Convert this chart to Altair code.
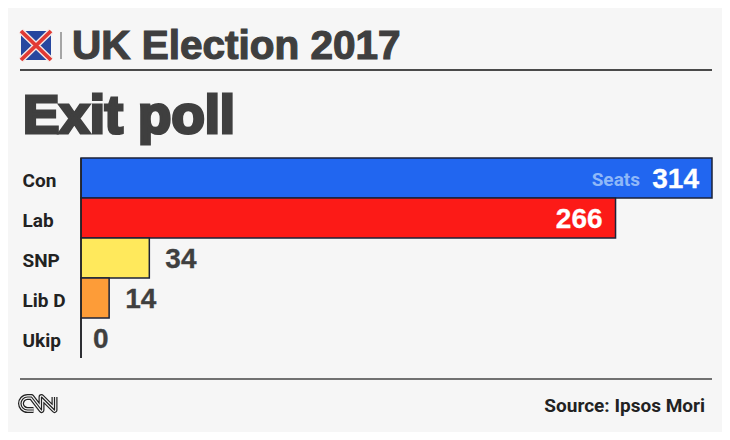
import altair as alt
import pandas as pd

parties = ["Con", "Lab", "SNP", "Lib D", "Ukip"]
seats = [314, 266, 34, 14, 0]
fills = ["#2166f0", "#fc1a17", "#ffe95c", "#fd9c38", "#f6f6f6"]

INK = "#3f3f3f"
BG = "#f6f6f6"
COND = "Roboto"

df = pd.DataFrame({"party": parties, "seats": seats, "fill": fills})

x = alt.X("seats:Q", scale=alt.Scale(domain=[0, 314], nice=False, zero=True), axis=None)
y = alt.Y("party:N", sort=parties, scale=alt.Scale(paddingInner=0, paddingOuter=0),
          axis=alt.Axis(title=None, domain=False, ticks=False, grid=False, labelAlign="left",
                        labelPadding=59, labelFont=COND, labelFontWeight="bold", labelOffset=3,
                        labelFontSize=19, labelColor="#222222"))

bars = alt.Chart(df).mark_bar(stroke="#1b2238", strokeWidth=1.5).encode(
    x=x, y=y, fill=alt.Fill("fill:N", scale=None))

one = pd.DataFrame({"a": [0]})

base_rule = alt.Chart(one).mark_rule(color="#222222", strokeWidth=1.5).encode(
    x=alt.value(0), y=alt.value(0), y2=alt.value(200))

def value_labels(sub, align, dx, color):
    return alt.Chart(sub).mark_text(align=align, dx=dx, dy=2, font="Liberation Sans", fontWeight="bold",
                                    fontSize=28, color=color, stroke=color, strokeWidth=0.3).encode(
        x=x, y=y, text="seats:Q")

inside = value_labels(df[df.seats > 100], "right", -13, "#ffffff")
outside = value_labels(df[(df.seats <= 100) & (df.seats > 0)], "left", 16, INK)
zero = value_labels(df[df.seats == 0], "left", 12, INK)

def note(text, xp, yp, size, color=INK, font="Liberation Sans", weight="bold", align="left", sw=0):
    return alt.Chart(pd.DataFrame({"t": [text]})).mark_text(
        align=align, baseline="alphabetic", font=font, fontWeight=weight, fontSize=size,
        color=color, stroke=color, strokeWidth=sw
    ).encode(x=alt.value(xp - 81), y=alt.value(yp - 158), text="t:N")

def hrule(x1, x2, yp, color, w):
    return alt.Chart(one).mark_rule(color=color, strokeWidth=w).encode(
        x=alt.value(x1 - 81), x2=alt.value(x2 - 81), y=alt.value(yp - 158))

def vrule(xp, y1, y2, color, w):
    return alt.Chart(one).mark_rule(color=color, strokeWidth=w).encode(
        x=alt.value(xp - 81), y=alt.value(y1 - 158), y2=alt.value(y2 - 158))

def shape(path, xp, yp, fill=None, stroke=None, sw=0):
    # size=4 makes one path unit equal to one pixel
    kw = dict(shape=path, size=4, opacity=1, filled=fill is not None)
    if fill is not None:
        kw["fill"] = fill
        kw["strokeWidth"] = 0
    else:
        kw["stroke"] = stroke
        kw["strokeWidth"] = sw
        kw["strokeJoin"] = "round"
    return alt.Chart(one).mark_point(**kw).encode(x=alt.value(xp - 81), y=alt.value(yp - 158))

FLAG_BG = "M-15,-14.5H15V14.5H-15Z"
FLAG_X = "M-15,-14.5L15,14.5M-15,14.5L15,-14.5"
CNN = ("M-5,6.5H-11C-15,6.5 -17.5,3 -17.5,0C-17.5,-3 -15,-6.5 -11,-6.5H-7"
       "L3,6.5V-6.5L16,6.5V-6.5")

chart = alt.layer(
    shape(FLAG_BG, 36, 45.5, fill="#27479f"),
    shape(FLAG_X, 36, 45.5, stroke="#f4e9e6", sw=6.5),
    shape(FLAG_X, 36, 45.5, stroke="#e23a34", sw=3.8),
    vrule(61, 32, 59, "#555555", 1),
    note("UK Election 2017", 72, 59, 40.5, sw=1.2),
    hrule(20, 712, 70, "#111111", 1.5),
    note("Exit poll", 23, 133, 54.5, sw=3.2),
    bars, base_rule, inside, outside, zero,
    note("Seats", 640, 186, 19, color="#8fb8f8", font=COND, align="right"),
    hrule(20, 712, 379, "#444444", 1.5),
    shape(CNN, 38.5, 403.5, stroke="#222222", sw=6),
    shape(CNN, 38.5, 403.5, stroke=BG, sw=3.6),
    shape(CNN, 38.5, 403.5, stroke="#222222", sw=1.2),
    note("Source: Ipsos Mori", 705, 412, 19, color="#222222", font=COND, align="right"),
).properties(
    width=631, height=200,
    background=BG,
    padding={"left": 73, "top": 150, "right": 10, "bottom": 74},
    autosize=alt.AutoSizeParams(type="none"),
).configure_view(stroke=None)

chart.save("out.html", embed_options={"renderer": "svg", "actions": False})
